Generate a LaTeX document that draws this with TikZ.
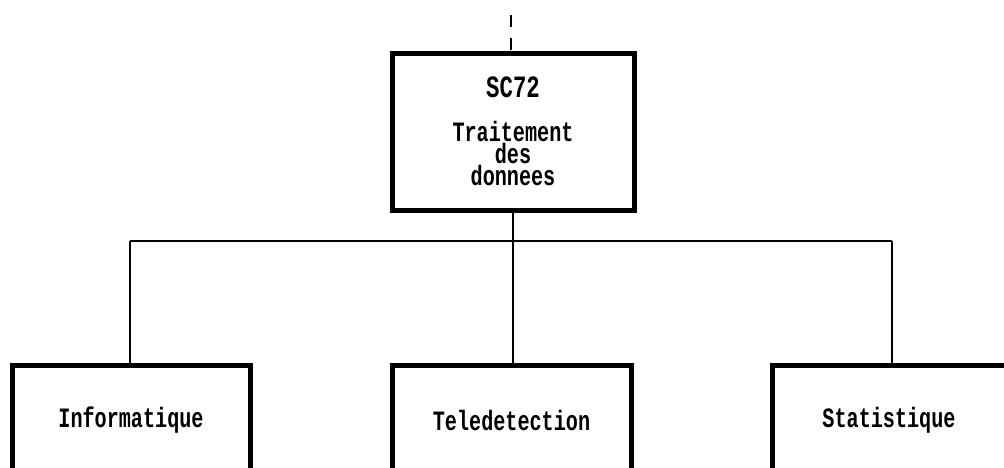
\documentclass[tikz,border=0pt]{standalone}
\usepackage{fontspec}
\newfontfamily\dotfont[FakeStretch=0.72]{Liberation Mono}
\begin{document}
\begin{tikzpicture}[x=1pt,y=1pt,
  box/.style={draw, line width=5pt, inner sep=0pt, align=center,
    font=\dotfont\bfseries\fontsize{28}{22}\selectfont},
  conn/.style={line width=1.8pt}]
\useasboundingbox (0,0) rectangle (1004,-467);
\clip (0,0) rectangle (1004,-467);
\node[box, minimum width=242, minimum height=157] (top) at (513,-131.5)
  {\fontsize{31}{22}\selectfont SC72\\[22pt]Traitement\\des\\donnees};
\node[box, minimum width=238, minimum height=110] (b1) at (131,-420) {Informatique};
\node[box, minimum width=239, minimum height=110] (b2) at (511.5,-420) {Teledetection};
\node[box, minimum width=234, minimum height=110] (b3) at (889,-420) {Statistique};
\coordinate (d0) at (511,-15);
\coordinate (hl) at (130,-241);
\coordinate (hr) at (892,-241);
\draw[conn, dash pattern=on 12pt off 11pt] (d0) -- (d0 |- top.north);
\draw[conn] (hl) -- (hr);
\draw[conn] (top.south) -- (top.south |- hl);
\draw[conn] (hl) -- (hl |- b1.north);
\draw[conn] (top.south |- hl) -- (top.south |- b2.north);
\draw[conn] (hr) -- (hr |- b3.north);
\end{tikzpicture}
\end{document}
